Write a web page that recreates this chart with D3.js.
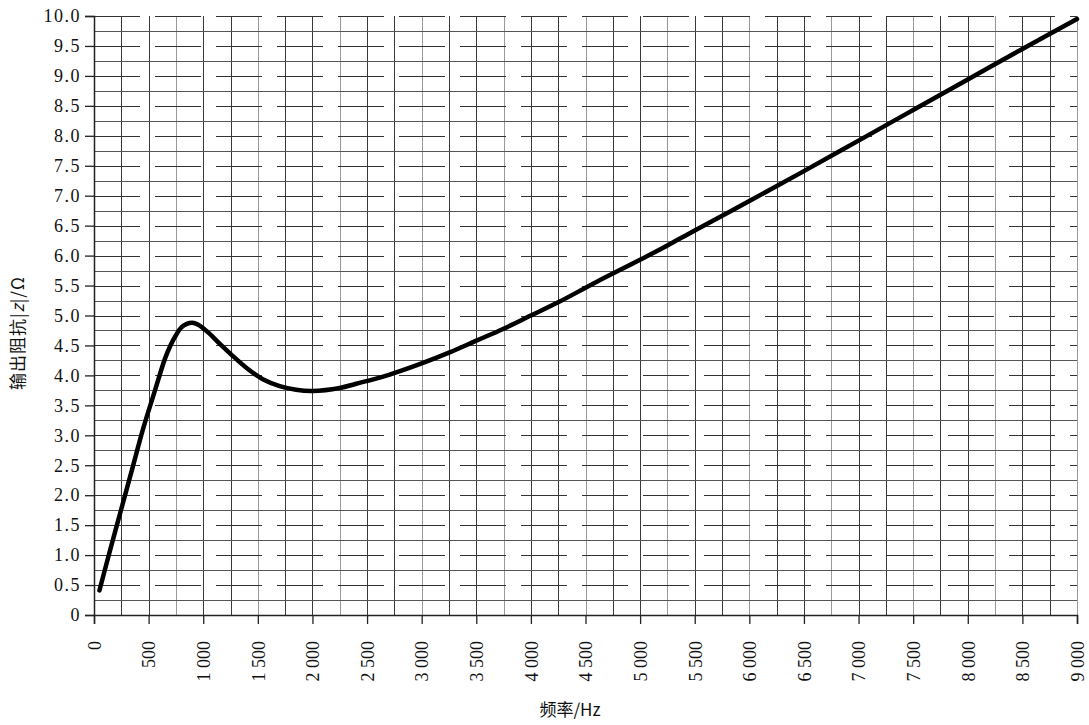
<!DOCTYPE html>
<html>
<head>
<meta charset="utf-8">
<script src="https://cdn.jsdelivr.net/npm/d3@7"></script>
<style>
  body { margin: 0; background: #fff; }
  svg { display: block; }
  svg text.serif { font-family: "Liberation Serif", "DejaVu Serif", serif !important; }
</style>
</head>
<body>
<svg id="chart" width="1089" height="725"></svg>
<script>
// ---- data ----
const freqHz = [50, 150, 250, 350, 450, 550, 650, 700, 750, 800, 850, 900, 950, 1050, 1150, 1250, 1400, 1550, 1700, 1850, 2000, 2250, 2400, 2700, 3000, 3250, 3500, 3750, 4000, 4250, 4600, 5000, 5250, 5500, 6000, 6500, 7000, 7500, 8000, 8500, 9000];
const impedance = [0.41, 1.1, 1.77, 2.44, 3.11, 3.7, 4.28, 4.5, 4.67, 4.8, 4.86, 4.88, 4.85, 4.71, 4.53, 4.36, 4.12, 3.93, 3.82, 3.76, 3.74, 3.79, 3.86, 4.01, 4.2, 4.38, 4.58, 4.78, 5.0, 5.22, 5.56, 5.93, 6.17, 6.42, 6.91, 7.41, 7.92, 8.43, 8.94, 9.45, 9.95];
const xTicks = [0, 500, 1000, 1500, 2000, 2500, 3000, 3500, 4000, 4500, 5000, 5500, 6000, 6500, 7000, 7500, 8000, 8500, 9000];
const yTicks = [0, 0.5, 1, 1.5, 2, 2.5, 3, 3.5, 4, 4.5, 5, 5.5, 6, 6.5, 7, 7.5, 8, 8.5, 9, 9.5, 10];
const xLabel = "频率/Hz";
const yLabelParts = ["输出阻抗|", "z", "|/Ω"];

// ---- layout ----
const svg = d3.select("#chart");
const pLeft = 94, pRight = 1077, pTop = 16, pBottom = 615;
const x = d3.scaleLinear().domain([0, 9000]).range([pLeft, pRight]);
const y = d3.scaleLinear().domain([0, 10]).range([pBottom, pTop]);
const isHalf = d => Math.abs(d * 2 - Math.round(d * 2)) < 1e-6;

// grid
const g = svg.append("g");
const vGrid = d3.range(0, 9001, 250);
g.selectAll("line.v").data(vGrid).join("line")
  .attr("x1", d => Math.round(x(d)) + 0.5).attr("x2", d => Math.round(x(d)) + 0.5)
  .attr("y1", pTop).attr("y2", pBottom)
  .attr("stroke", (d, i) => (i % 3 === 0 ? "#9a9a9a" : "#3a3a3a"))
  .attr("stroke-width", 1);
const hGrid = d3.range(0, 10.001, 0.25);
g.selectAll("line.h").data(hGrid).join("line")
  .attr("x1", pLeft).attr("x2", pRight)
  .attr("y1", d => Math.round(y(d)) + 0.5).attr("y2", d => Math.round(y(d)) + 0.5)
  .attr("stroke", d => (isHalf(d) ? "#333" : "#555"))
  .attr("stroke-width", d => (isHalf(d) ? 1.2 : 1))
  .attr("stroke-dasharray", d => (isHalf(d) ? "46,15" : null));

// axes
const yAxis = d3.axisLeft(y).tickValues(yTicks).tickSize(9).tickPadding(4)
  .tickFormat(d => d === 0 ? "0" : d3.format(".1f")(d));
const ya = svg.append("g").attr("transform", `translate(${pLeft},0)`).call(yAxis)
  .attr("font-family", null).attr("font-size", null);
ya.select(".domain").attr("stroke", "#222").attr("stroke-width", 1.5);
ya.selectAll(".tick line").attr("stroke", "#222").attr("stroke-width", 1.3);
ya.selectAll("text").attr("class", "serif").style("font-size", "18px")
  .attr("letter-spacing", 1.5).attr("fill", "#111");

const fmtX = d => d >= 1000 ? Math.floor(d / 1000) + " " + String(d % 1000).padStart(3, "0") : String(d);
const xAxis = d3.axisBottom(x).tickValues(xTicks).tickSize(9).tickFormat(fmtX);
const xa = svg.append("g").attr("transform", `translate(0,${pBottom})`).call(xAxis)
  .attr("font-family", null).attr("font-size", null);
xa.select(".domain").attr("stroke", "#222").attr("stroke-width", 1.5);
xa.selectAll(".tick line").attr("stroke", "#222").attr("stroke-width", 1.3);
xa.selectAll("text")
  .attr("class", "serif").style("font-size", "18px").attr("fill", "#111")
  .attr("text-anchor", "end")
  .attr("transform", "translate(0,26) rotate(-90)")
  .attr("x", 0).attr("y", 0).attr("dy", "0.35em");

// curve
const pts = freqHz.map((f, i) => [f, impedance[i]]);
svg.append("path").datum(pts)
  .attr("fill", "none").attr("stroke", "#000").attr("stroke-width", 4.5)
  .attr("stroke-linecap", "round").attr("stroke-linejoin", "round")
  .attr("d", d3.line().x(d => x(d[0])).y(d => y(d[1])).curve(d3.curveCatmullRom.alpha(0.5)));

// titles
svg.append("text").attr("x", 570).attr("y", 716).attr("text-anchor", "middle")
  .style("font-family", "'Noto Sans CJK SC', sans-serif").style("font-size", "17px").attr("fill", "#111")
  .text(xLabel);
const yt = svg.append("text").attr("transform", "translate(24,333) rotate(-90)")
  .attr("text-anchor", "middle").attr("letter-spacing", 1)
  .style("font-family", "'Noto Sans CJK SC', sans-serif").style("font-size", "17px").attr("fill", "#111");
yt.append("tspan").text(yLabelParts[0]);
yt.append("tspan").attr("class", "serif").attr("font-style", "italic").text(yLabelParts[1]);
yt.append("tspan").text(yLabelParts[2]);
</script>
</body>
</html>
